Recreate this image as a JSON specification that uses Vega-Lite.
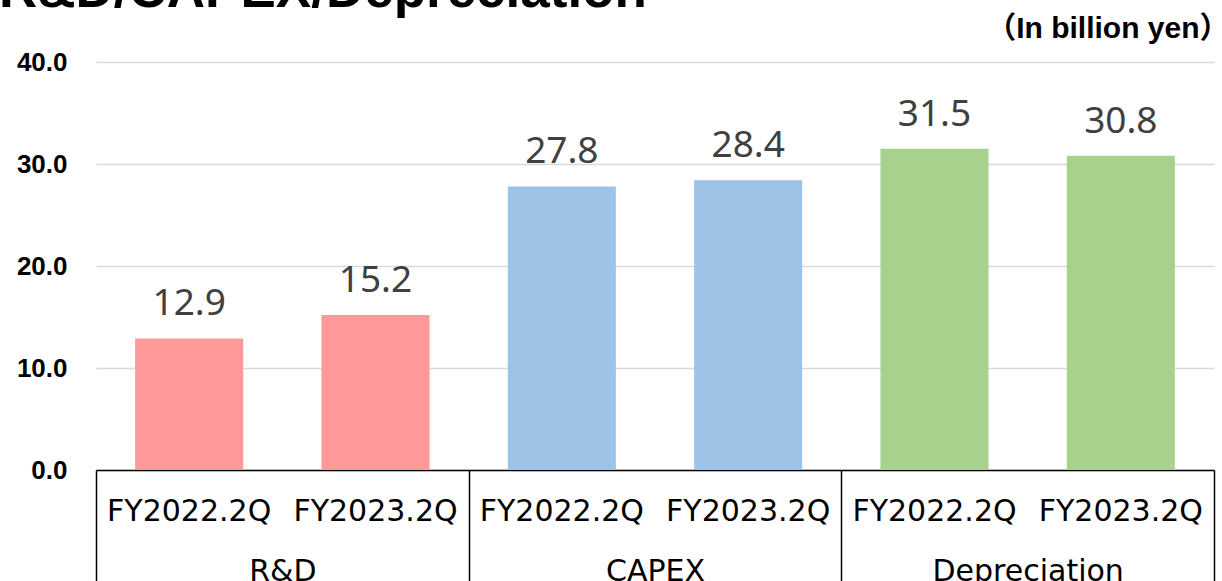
{
  "$schema": "https://vega.github.io/schema/vega-lite/v6.json",
  "width": 1118,
  "height": 408,
  "autosize": {"type": "none"},
  "padding": {"left": 96, "right": 8, "top": 62, "bottom": 111},
  "background": "white",
  "title": {
    "text": "R&D/CAPEX/Depreciation",
    "anchor": "start",
    "frame": "group",
    "font": "Liberation Sans",
    "fontSize": 53,
    "fontWeight": "bold",
    "color": "#000000",
    "baseline": "alphabetic",
    "dx": -97,
    "dy": 47,
    "offset": 0
  },
  "config": {
    "view": {"stroke": null}
  },
  "data": {
    "values": [
      {"group": "R&D", "period": "FY2022.2Q", "value": 12.9},
      {"group": "R&D", "period": "FY2023.2Q", "value": 15.2},
      {"group": "CAPEX", "period": "FY2022.2Q", "value": 27.8},
      {"group": "CAPEX", "period": "FY2023.2Q", "value": 28.4},
      {"group": "Depreciation", "period": "FY2022.2Q", "value": 31.5},
      {"group": "Depreciation", "period": "FY2023.2Q", "value": 30.8}
    ]
  },
  "encoding": {
    "x": {
      "field": "group",
      "type": "nominal",
      "sort": ["R&D", "CAPEX", "Depreciation"],
      "scale": {"paddingInner": 0, "paddingOuter": 0},
      "axis": {
        "title": null,
        "labelAngle": 0,
        "labelFont": "DejaVu Sans",
        "labelFontSize": 30,
        "labelColor": "#000000",
        "labelBaseline": "alphabetic",
        "labelPadding": -2,
        "labelLimit": 0,
        "labelOverlap": false,
        "tickBand": "extent",
        "tickSize": 112,
        "tickColor": "#000000",
        "tickWidth": 1.5,
        "domainColor": "#000000",
        "domainWidth": 1.5,
        "grid": false
      }
    },
    "xOffset": {
      "field": "period",
      "type": "nominal",
      "scale": {"paddingInner": 0.42, "paddingOuter": 0.21}
    }
  },
  "layer": [
    {
      "mark": {"type": "bar"},
      "encoding": {
        "y": {
          "field": "value",
          "type": "quantitative",
          "scale": {"domain": [0, 40]},
          "axis": {
            "values": [0, 10, 20, 30, 40],
            "format": ".1f",
            "labelFont": "Liberation Sans",
            "labelFontSize": 26,
            "labelFontWeight": "bold",
            "labelColor": "#000000",
            "labelPadding": 29,
            "ticks": false,
            "domain": false,
            "gridColor": "#d9d9d9",
            "gridWidth": 1.5,
            "title": "（In billion yen）",
            "titleAngle": 0,
            "titleAlign": "right",
            "titleBaseline": "alphabetic",
            "titleX": 1133,
            "titleY": -25,
            "titleFont": "Liberation Sans, Noto Sans CJK JP",
            "titleFontSize": 30,
            "titleFontWeight": "bold",
            "titleColor": "#000000"
          }
        },
        "color": {
          "field": "group",
          "type": "nominal",
          "scale": {
            "domain": ["R&D", "CAPEX", "Depreciation"],
            "range": ["#FF9999", "#9DC3E6", "#A9D18E"]
          },
          "legend": null
        }
      }
    },
    {
      "mark": {
        "type": "text",
        "font": "Noto Sans",
        "fontSize": 37,
        "color": "#404040",
        "baseline": "alphabetic",
        "dy": -23
      },
      "encoding": {
        "y": {"field": "value", "type": "quantitative"},
        "text": {"field": "value", "type": "quantitative", "format": ".1f"}
      }
    },
    {
      "mark": {
        "type": "text",
        "font": "DejaVu Sans",
        "fontSize": 30,
        "color": "#000000",
        "baseline": "alphabetic",
        "dy": 51
      },
      "encoding": {
        "y": {"datum": 0, "type": "quantitative"},
        "text": {"field": "period", "type": "nominal"}
      }
    }
  ]
}
